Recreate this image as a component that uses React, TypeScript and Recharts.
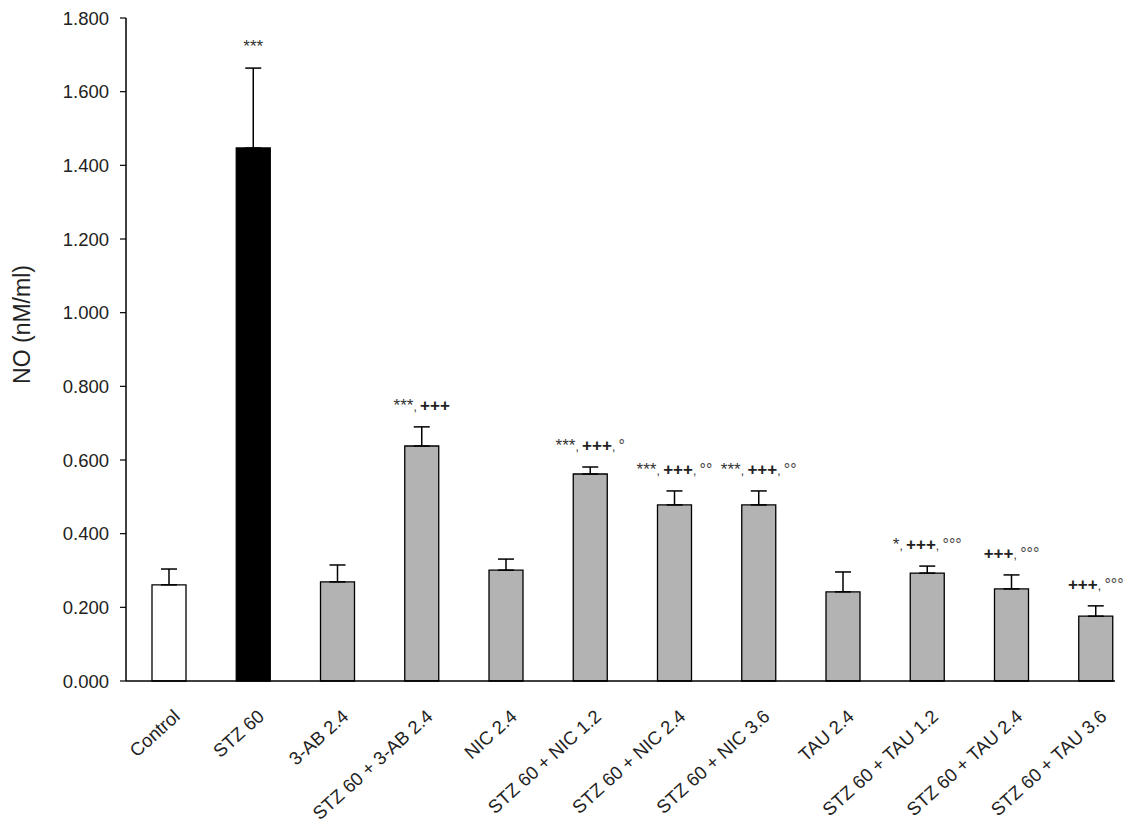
import React from 'react';
import { BarChart, Bar, XAxis, YAxis, ErrorBar, Cell, LabelList } from 'recharts';

const groups = [
  'Control', 'STZ 60', '3-AB 2.4', 'STZ 60 + 3-AB 2.4', 'NIC 2.4', 'STZ 60 + NIC 1.2',
  'STZ 60 + NIC 2.4', 'STZ 60 + NIC 3.6', 'TAU 2.4', 'STZ 60 + TAU 1.2', 'STZ 60 + TAU 2.4', 'STZ 60 + TAU 3.6',
];
const means = [0.261, 1.447, 0.269, 0.638, 0.301, 0.562, 0.478, 0.478, 0.242, 0.293, 0.25, 0.176];
const sem = [0.043, 0.217, 0.046, 0.052, 0.03, 0.019, 0.038, 0.038, 0.054, 0.019, 0.038, 0.028];
const marks = ['', '***', '', '***, +++', '', '***, +++, °', '***, +++, °°', '***, +++, °°', '', '*, +++, °°°', '+++, °°°', '+++, °°°'];
const yTicks = [0, 0.2, 0.4, 0.6, 0.8, 1.0, 1.2, 1.4, 1.6, 1.8];
const yTitle = 'NO (nM/ml)';

const data = groups.map((g, i) => ({ name: g, value: means[i], err: [0, sem[i]] }));

const FONT = '"Liberation Sans", Arial, sans-serif';

const fillFor = (i: number) => (i === 0 ? '#ffffff' : i === 1 ? '#000000' : '#b3b3b3');

const XTick = (props: any) => {
  const { x, y, payload } = props;
  return (
    <g transform={`translate(${x + 12},${y + 29})`}>
      <text textAnchor="end" transform="rotate(-42)" fontSize={18.5} fontFamily={FONT} fill="#222">
        {payload.value}
      </text>
    </g>
  );
};

const YTitle = (props: any) => {
  const vb = props.viewBox || { x: 0, y: 0, width: 0, height: 0 };
  const cx = vb.x + 14;
  const cy = vb.y + vb.height / 2 - 25;
  return (
    <text
      x={cx}
      y={cy}
      transform={`rotate(-90, ${cx}, ${cy})`}
      textAnchor="middle"
      dominantBaseline="central"
      fontSize={23}
      fontFamily={FONT}
      fill="#222"
    >
      {yTitle}
    </text>
  );
};

const MarkLabel = (props: any) => {
  const { x, y, width, height, index, value } = props;
  const m = marks[index];
  if (!m) return null;
  const pxPer = value > 0 ? height / value : 0;
  const errTop = y - sem[index] * pxPer;
  const tokens = m.split(', ');
  const parts: any[] = [];
  tokens.forEach((t: string, i: number) => {
    if (i > 0) parts.push(<tspan key={`c${i}`} fontSize={12} fill="#333">{', '}</tspan>);
    if (t.startsWith('*')) parts.push(<tspan key={`t${i}`} fontSize={17} fill="#333">{t}</tspan>);
    else if (t.startsWith('+')) parts.push(<tspan key={`t${i}`} fontSize={17} fontWeight="bold" fill="#222">{t}</tspan>);
    else parts.push(<tspan key={`t${i}`} fontSize={16} fill="#444">{' ' + t}</tspan>);
  });
  return (
    <text x={x + width / 2} y={errTop - 16} textAnchor="middle" fontFamily={FONT}>
      {parts}
    </text>
  );
};

export default function App() {
  return (
    <div style={{ width: 1139, height: 826, background: '#fff' }}>
      <BarChart width={1139} height={826} data={data} margin={{ top: 10, right: 32, bottom: 0, left: 0 }} barCategoryGap={0}>
        <XAxis
          dataKey="name"
          interval={0}
          height={153}
          tick={<XTick />}
          tickLine={false}
          padding={{ left: 1, right: -23 }}
          axisLine={{ stroke: '#000', strokeWidth: 1.5 }}
        />
        <YAxis
          width={118}
          domain={[0, 1.8]}
          ticks={yTicks}
          tickFormatter={(v: number) => v.toFixed(3)}
          tick={{ fontSize: 18.5, fontFamily: FONT, fill: '#222' }}
          tickLine={{ stroke: '#000', strokeWidth: 1.2 }}
          tickSize={6}
          tickMargin={11}
          axisLine={{ stroke: '#000', strokeWidth: 1.5 }}
          label={<YTitle />}
        />
        <Bar dataKey="value" barSize={34} stroke="#000" strokeWidth={1.3} isAnimationActive={false}>
          {data.map((_, i) => (
            <Cell key={i} fill={fillFor(i)} />
          ))}
          <ErrorBar dataKey="err" width={8} stroke="#000" strokeWidth={1.5} direction="y" />
          <LabelList dataKey="value" content={<MarkLabel />} />
        </Bar>
      </BarChart>
    </div>
  );
}
